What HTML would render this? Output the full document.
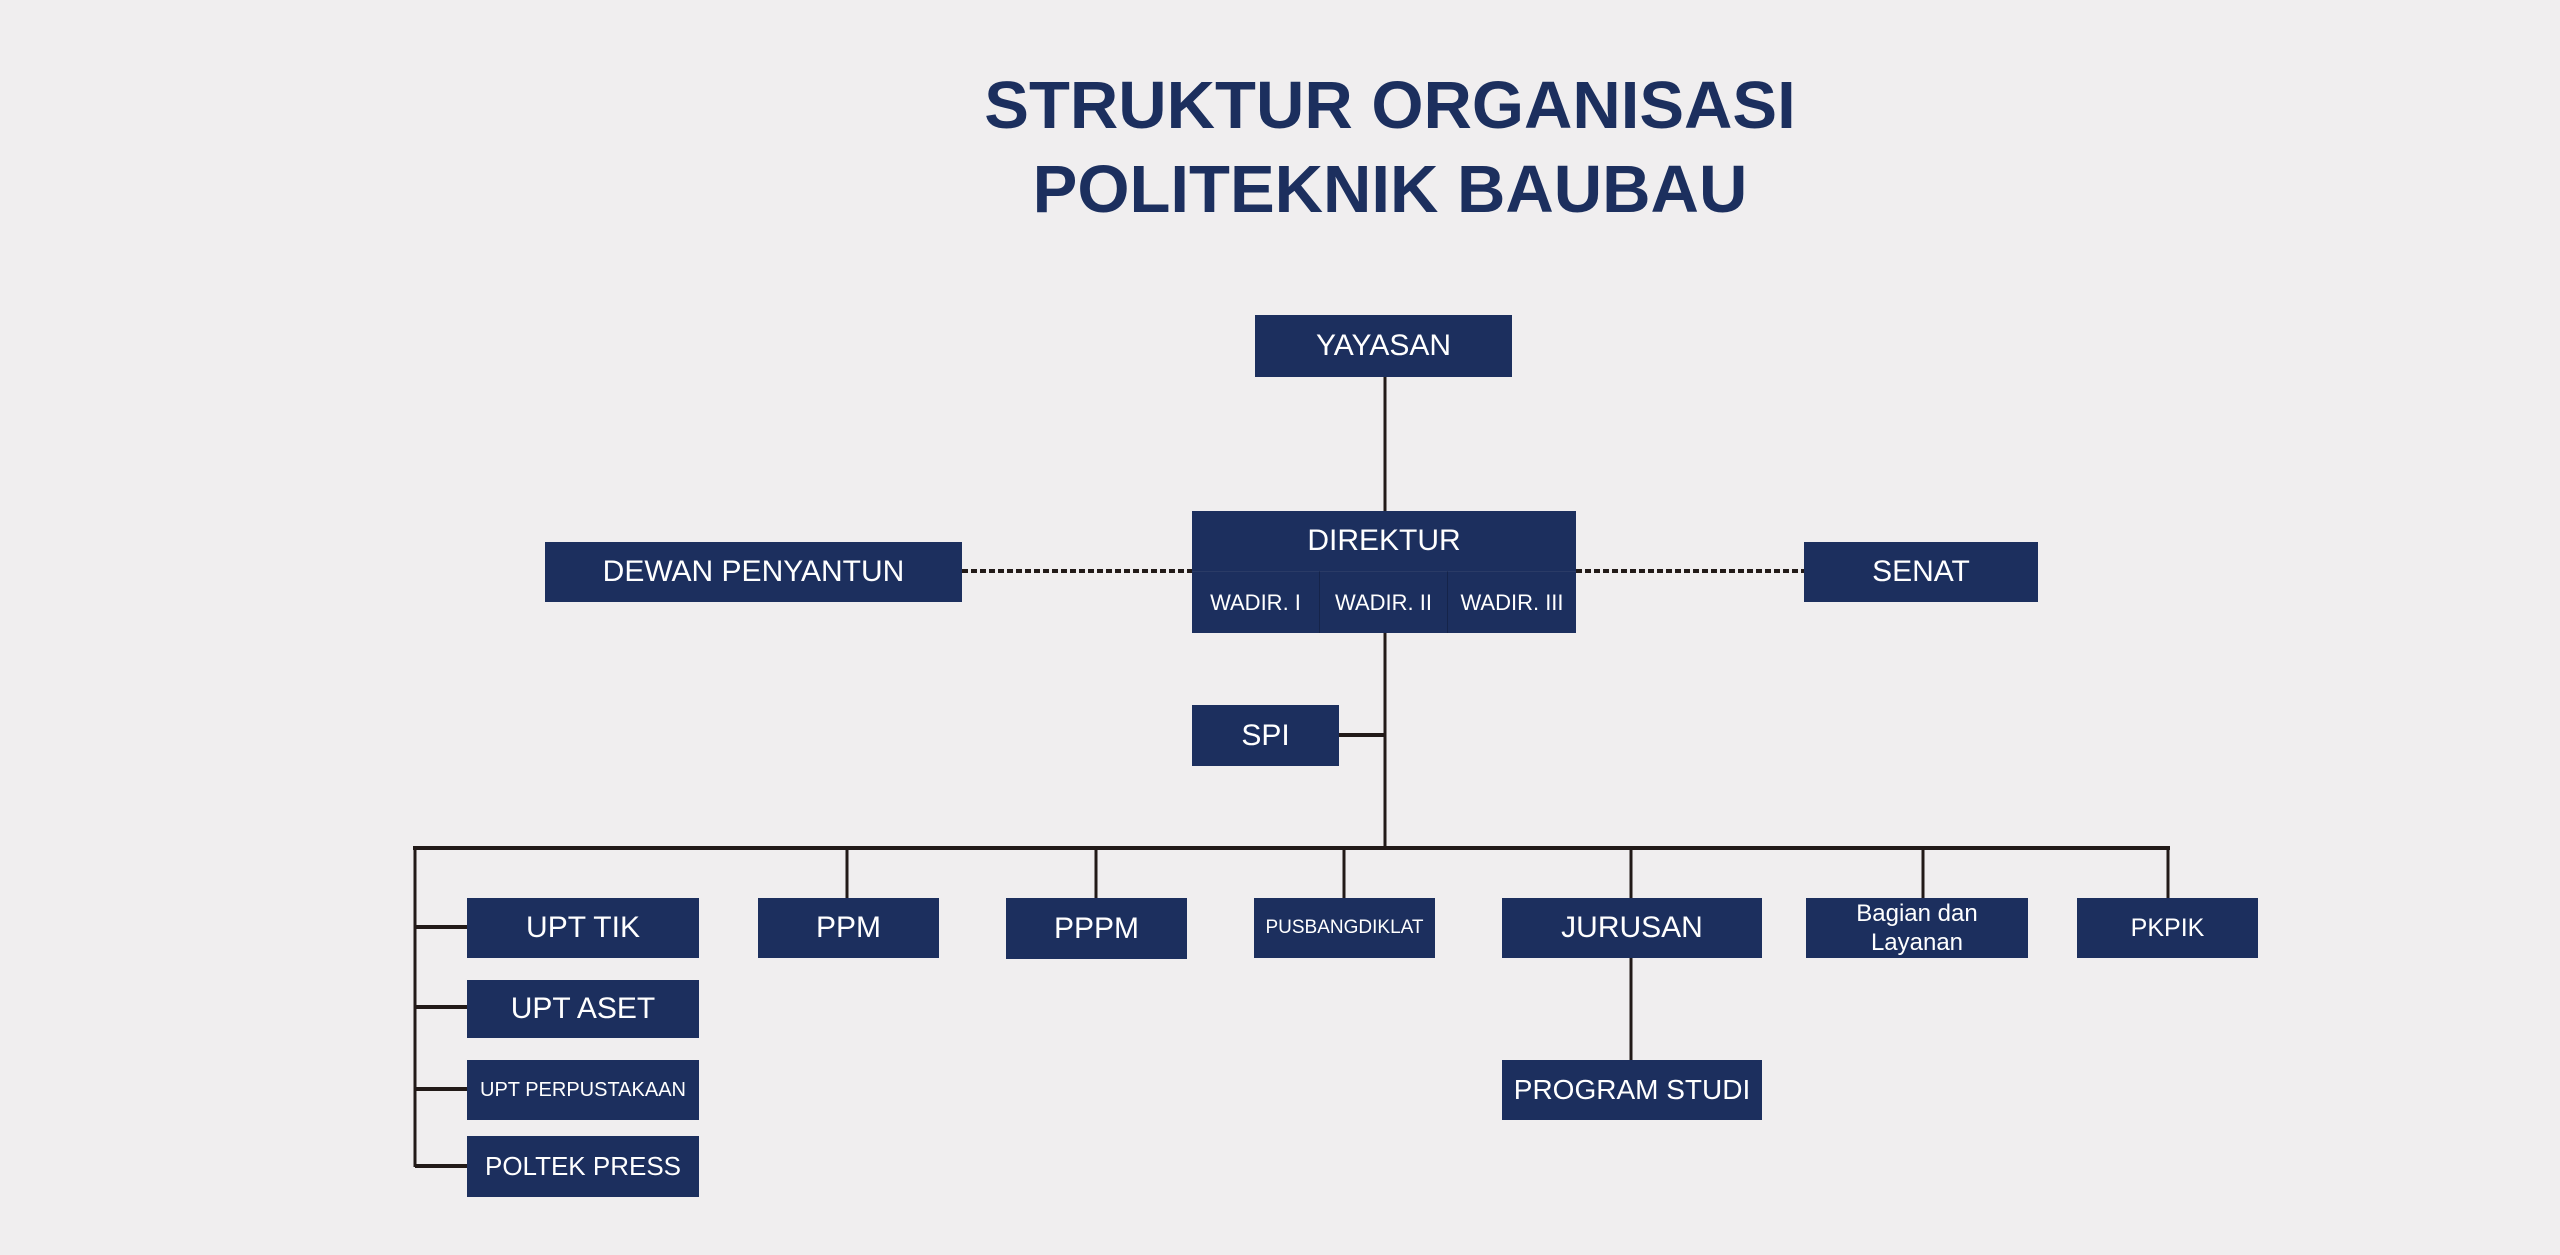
<!DOCTYPE html>
<html><head><meta charset="utf-8"><style>
html,body{margin:0;padding:0}
body{width:2560px;height:1255px;background:#f0eeef;position:relative;overflow:hidden;font-family:"Liberation Sans",Arial,sans-serif}
.t{position:absolute;left:0;width:2780px;text-align:center;color:#1c2f5e;font-weight:bold;font-size:67px;line-height:80px}
.b{position:absolute;background:#1c2f5e;color:#fff;display:flex;align-items:center;justify-content:center;text-align:center;white-space:nowrap;font-size:30px;box-sizing:border-box}
svg{position:absolute;left:0;top:0}
</style></head><body>
<div class="t" style="top:66px">STRUKTUR ORGANISASI</div>
<div class="t" style="top:150px">POLITEKNIK BAUBAU</div>
<svg width="2560" height="1255">
<g stroke="#221a18" fill="none">
<line x1="1385" y1="377" x2="1385" y2="511" stroke-width="3"/>
<line x1="1385" y1="633" x2="1385" y2="848" stroke-width="3"/>
<line x1="1339" y1="735" x2="1385" y2="735" stroke-width="4"/>
<line x1="962" y1="571" x2="1192" y2="571" stroke-width="4" stroke-dasharray="6,3"/>
<line x1="1576" y1="571" x2="1804" y2="571" stroke-width="4" stroke-dasharray="6,3"/>
<line x1="413" y1="848" x2="2170" y2="848" stroke-width="4"/>
<line x1="415" y1="846" x2="415" y2="1167" stroke-width="3"/>
<line x1="415" y1="927" x2="467" y2="927" stroke-width="4"/>
<line x1="415" y1="1007" x2="467" y2="1007" stroke-width="4"/>
<line x1="415" y1="1089" x2="467" y2="1089" stroke-width="4"/>
<line x1="415" y1="1166" x2="467" y2="1166" stroke-width="4"/>
<line x1="847" y1="848" x2="847" y2="898" stroke-width="3"/>
<line x1="1096" y1="848" x2="1096" y2="898" stroke-width="3"/>
<line x1="1344" y1="848" x2="1344" y2="898" stroke-width="3"/>
<line x1="1631" y1="848" x2="1631" y2="898" stroke-width="3"/>
<line x1="1923" y1="848" x2="1923" y2="898" stroke-width="3"/>
<line x1="2168" y1="848" x2="2168" y2="898" stroke-width="3"/>
<line x1="1631" y1="958" x2="1631" y2="1060" stroke-width="3"/>
</g></svg>
<div class="b" style="left:1255px;top:315px;width:257px;height:62px">YAYASAN</div>
<div class="b" style="left:1192px;top:511px;width:384px;height:60px">DIREKTUR</div>
<div class="b" style="left:1192px;top:571px;width:127px;height:62px;font-size:22px;border-top:1px solid #2a3b66">WADIR. I</div>
<div class="b" style="left:1319px;top:571px;width:128px;height:62px;font-size:22px;border-left:1px solid #15244a;border-top:1px solid #2a3b66">WADIR. II</div>
<div class="b" style="left:1447px;top:571px;width:129px;height:62px;font-size:22px;border-left:1px solid #15244a;border-top:1px solid #2a3b66">WADIR. III</div>
<div class="b" style="left:545px;top:542px;width:417px;height:60px">DEWAN PENYANTUN</div>
<div class="b" style="left:1804px;top:542px;width:234px;height:60px">SENAT</div>
<div class="b" style="left:1192px;top:705px;width:147px;height:61px">SPI</div>
<div class="b" style="left:467px;top:898px;width:232px;height:60px">UPT TIK</div>
<div class="b" style="left:758px;top:898px;width:181px;height:60px">PPM</div>
<div class="b" style="left:1006px;top:898px;width:181px;height:61px">PPPM</div>
<div class="b" style="left:1254px;top:898px;width:181px;height:60px;font-size:19px">PUSBANGDIKLAT</div>
<div class="b" style="left:1502px;top:898px;width:260px;height:60px">JURUSAN</div>
<div class="b" style="left:1806px;top:898px;width:222px;height:60px;font-size:24px;line-height:29px;white-space:normal">Bagian dan<br>Layanan</div>
<div class="b" style="left:2077px;top:898px;width:181px;height:60px;font-size:25px">PKPIK</div>
<div class="b" style="left:467px;top:980px;width:232px;height:58px">UPT ASET</div>
<div class="b" style="left:467px;top:1060px;width:232px;height:60px;font-size:20px">UPT PERPUSTAKAAN</div>
<div class="b" style="left:467px;top:1136px;width:232px;height:61px;font-size:26px">POLTEK PRESS</div>
<div class="b" style="left:1502px;top:1060px;width:260px;height:60px;font-size:28px">PROGRAM STUDI</div>
</body></html>
